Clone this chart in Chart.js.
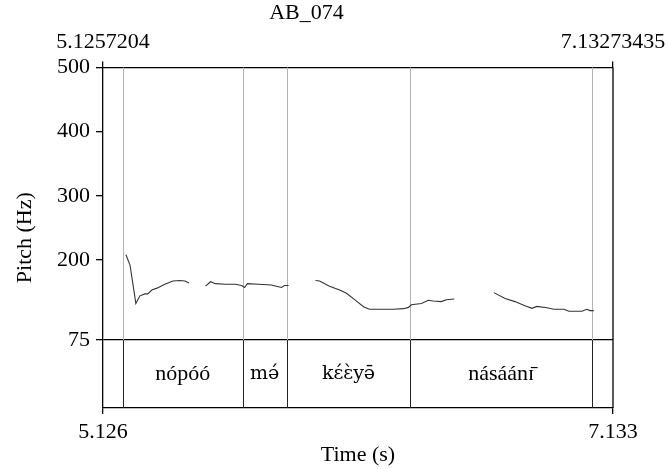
<!DOCTYPE html>
<html>
<head>
<meta charset="utf-8">
<script src="https://cdn.jsdelivr.net/npm/chart.js@4"></script>
<style>
  html, body { margin: 0; padding: 0; background: #fff; }
  canvas { display: block; }
</style>
</head>
<body>
<canvas id="pitch" width="668" height="469"></canvas>
<script>
// time window of the selection
const tStart = 5.1257204
const tEnd = 7.13273435
const yTicks = [500, 400, 300, 200, 75]

// pitch contour, one pair of arrays per voiced stretch
const seg1Time = [5.216, 5.232, 5.244, 5.255, 5.271, 5.291, 5.302, 5.318, 5.338, 5.369, 5.401, 5.428, 5.448, 5.464]
const seg1Pitch = [208, 192, 161, 132, 144, 147, 147, 153, 156, 162, 167, 168, 167, 164]
const seg2Time = [5.529, 5.549, 5.568, 5.608, 5.647, 5.671, 5.683, 5.694, 5.737, 5.788, 5.808, 5.828, 5.840, 5.852, 5.856]
const seg2Pitch = [159, 166, 163, 162, 162, 160, 157, 163, 162, 161, 159, 157, 160, 160, 160]
const seg3Time = [5.962, 5.978, 6.017, 6.057, 6.084, 6.116, 6.151, 6.174, 6.214, 6.269, 6.308, 6.328, 6.339, 6.379, 6.406, 6.426, 6.457, 6.477, 6.508]
const seg3Pitch = [168, 167, 159, 153, 148, 138, 127, 123, 123, 123, 124, 126, 130, 132, 137, 136, 135, 138, 139]
const seg4Time = [6.664, 6.708, 6.747, 6.786, 6.814, 6.833, 6.873, 6.900, 6.940, 6.959, 7.010, 7.030, 7.042, 7.057]
const seg4Pitch = [149, 140, 135, 128.5, 124.5, 127.5, 125.5, 123, 123, 120, 120, 123, 121, 121]

// word tier
const boundaries = [5.204, 5.6756, 5.8484, 6.3354, 7.0502]
const words = ['nópóó', 'mə́', 'kɛ́ɛ̀yə̄', 'násáánɪ̄']

const FONT = 'Liberation Serif'
const SIZE = 22

function toPoints(ts, ps) {
    return ts.map((t, i) => ({x: t, y: ps[i]}))
}

function lineSet(ts, ps) {
    return {
        data: toPoints(ts, ps),
        showLine: true,
        borderColor: '#333',
        borderWidth: 1.1,
        pointRadius: 0,
        tension: 0,
        xAxisID: 'x'
    }
}

// keep the long edge labels from squeezing the plot
function fitX(height) {
    return s => {
        s.height = height
        s.paddingLeft = 0
        s.paddingRight = 0
    }
}

// grey boundary lines over the pitch area, black ones in the tier, and the labels
const tierPlugin = {
    id: 'tier',
    beforeDatasetsDraw(chart) {
        const {ctx, chartArea, scales} = chart
        const y75 = scales.y.getPixelForValue(75)
        ctx.save()
        ctx.strokeStyle = '#b4b4b4'
        ctx.lineWidth = 1
        boundaries.forEach(b => {
            const x = Math.round(scales.x.getPixelForValue(b)) + 0.5
            ctx.beginPath()
            ctx.moveTo(x, chartArea.top)
            ctx.lineTo(x, y75)
            ctx.stroke()
        })
        ctx.restore()
    },
    afterDraw(chart) {
        const {ctx, chartArea, scales} = chart
        const y75 = scales.y.getPixelForValue(75)
        ctx.save()
        ctx.strokeStyle = '#222'
        ctx.lineWidth = 1
        boundaries.forEach(b => {
            const x = Math.round(scales.x.getPixelForValue(b)) + 0.5
            ctx.beginPath()
            ctx.moveTo(x, y75)
            ctx.lineTo(x, chartArea.bottom)
            ctx.stroke()
        })
        // right side of the frame
        ctx.strokeStyle = '#000'
        ctx.lineWidth = 1.3
        ctx.beginPath()
        ctx.moveTo(chartArea.right, chartArea.top)
        ctx.lineTo(chartArea.right, chartArea.bottom)
        ctx.stroke()

        ctx.fillStyle = '#000'
        ctx.textAlign = 'center'
        ctx.textBaseline = 'middle'
        const yMid = (y75 + chartArea.bottom) / 2
        words.forEach((w, i) => {
            // Liberation Serif misplaces the stacked accents on ɛ, DejaVu Serif handles them
            ctx.font = /[\u025B\u0259]\u0301|\u0300/.test(w) ? (SIZE - 3) + 'px DejaVu Serif' : SIZE + 'px ' + FONT
            const x = (scales.x.getPixelForValue(boundaries[i]) + scales.x.getPixelForValue(boundaries[i + 1])) / 2
            ctx.fillText(w, x, yMid)
        })
        ctx.restore()
    }
}

new Chart(document.getElementById('pitch'), {
    type: 'scatter',
    data: {
        datasets: [
            lineSet(seg1Time, seg1Pitch),
            lineSet(seg2Time, seg2Pitch),
            lineSet(seg3Time, seg3Pitch),
            lineSet(seg4Time, seg4Pitch)
        ]
    },
    options: {
        responsive: false,
        devicePixelRatio: 1,
        animation: false,
        layout: {padding: {left: 0, right: 55, top: 0, bottom: 0}},
        plugins: {
            legend: {display: false},
            tooltip: {enabled: false},
            title: {
                display: true,
                text: 'AB_074',
                color: '#000',
                font: {family: FONT, size: SIZE, weight: 'normal'},
                padding: {top: 0, bottom: 0}
            }
        },
        scales: {
            x: {
                type: 'linear',
                position: 'bottom',
                min: tStart,
                max: tEnd,
                afterFit: fitX(61),
                afterBuildTicks: s => { s.ticks = [{value: tStart}, {value: tEnd}] },
                ticks: {
                    autoSkip: false,
                    maxRotation: 0,
                    color: '#000',
                    padding: 5,
                    font: {family: FONT, size: SIZE},
                    callback: v => v.toFixed(3)
                },
                grid: {drawOnChartArea: false, tickColor: '#000', tickLength: 6, lineWidth: 1.3},
                border: {display: true, color: '#000', width: 1.3},
                title: {
                    display: true,
                    text: 'Time (s)',
                    color: '#000',
                    font: {family: FONT, size: SIZE},
                    padding: {top: 0, bottom: 1}
                }
            },
            x2: {
                type: 'linear',
                position: 'top',
                min: tStart,
                max: tEnd,
                afterFit: fitX(41),
                afterBuildTicks: s => { s.ticks = [{value: tStart}, {value: tEnd}] },
                ticks: {
                    autoSkip: false,
                    maxRotation: 0,
                    color: '#000',
                    padding: 6,
                    font: {family: FONT, size: SIZE},
                    callback: v => v === tStart ? '5.1257204' : '7.13273435'
                },
                grid: {drawOnChartArea: false, tickColor: '#000', tickLength: 6, lineWidth: 1.3},
                border: {display: true, color: '#000', width: 1.3}
            },
            y: {
                type: 'linear',
                position: 'left',
                min: -30.8,
                max: 500,
                afterFit: s => { s.width = 103 },
                afterBuildTicks: s => { s.ticks = yTicks.map(v => ({value: v})) },
                ticks: {
                    autoSkip: false,
                    color: '#000',
                    padding: 6,
                    font: {family: FONT, size: SIZE}
                },
                grid: {
                    drawOnChartArea: true,
                    color: c => c.tick && c.tick.value === 75 ? '#000' : 'rgba(0,0,0,0)',
                    tickColor: '#000',
                    tickLength: 7,
                    lineWidth: 1.3
                },
                border: {display: true, color: '#000', width: 1.3},
                title: {
                    display: true,
                    text: 'Pitch (Hz)',
                    color: '#000',
                    font: {family: FONT, size: SIZE},
                    padding: {top: 12, bottom: 0}
                }
            }
        }
    },
    plugins: [tierPlugin]
})
</script>
</body>
</html>
